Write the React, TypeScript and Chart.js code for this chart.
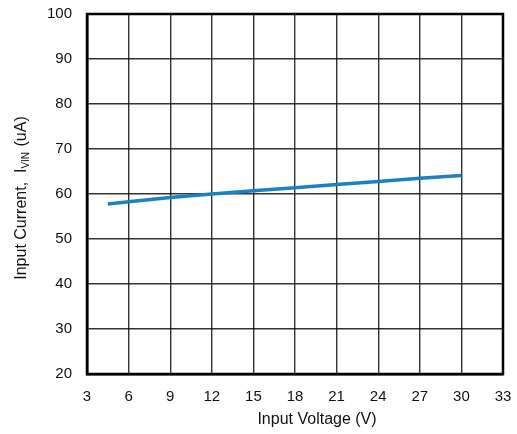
import React, { useEffect, useRef } from "react";
import { Chart, registerables } from "chart.js";

Chart.register(...registerables);

const voltage = [4.5, 6, 9, 12, 15, 18, 21, 24, 27, 30];
const current = [57.8, 58.3, 59.2, 60.0, 60.7, 61.4, 62.1, 62.8, 63.5, 64.1];
const xTitle = "Input Voltage (V)";
const yTitleMain = "Input Current,  I";
const yTitleSub = "VIN";
const yTitleEnd = " (uA)";

const FONT = "'Liberation Sans', Arial, Helvetica, sans-serif";

const titlePlugin = {
  id: "customTitles",
  afterDraw(chart: any) {
    const ctx = chart.ctx as CanvasRenderingContext2D;
    const area = chart.chartArea;
    ctx.save();
    ctx.fillStyle = "#111";
    ctx.font = `16px ${FONT}`;
    ctx.textAlign = "center";
    ctx.textBaseline = "middle";
    ctx.fillText(xTitle, 317, 420);

    const mainFont = `16px ${FONT}`;
    const subFont = `10px ${FONT}`;
    ctx.font = mainFont;
    const w1 = ctx.measureText(yTitleMain).width;
    const w3 = ctx.measureText(yTitleEnd).width;
    ctx.font = subFont;
    const w2 = ctx.measureText(yTitleSub).width + 1;
    const total = w1 + w2 + w3;
    ctx.translate(20, (area.top + area.bottom) / 2 + 4);
    ctx.rotate(-Math.PI / 2);
    ctx.textAlign = "left";
    ctx.textBaseline = "alphabetic";
    let x = -total / 2;
    ctx.font = mainFont;
    ctx.fillText(yTitleMain, x, 6);
    x += w1;
    ctx.font = subFont;
    ctx.fillText(yTitleSub, x, 9);
    x += w2;
    ctx.font = mainFont;
    ctx.fillText(yTitleEnd, x, 6);
    ctx.restore();
  },
};

export default function App() {
  const ref = useRef<HTMLCanvasElement>(null);
  useEffect(() => {
    if (!ref.current) return;
    const chart = new Chart(ref.current, {
      type: "line",
      data: {
        datasets: [
          {
            data: voltage.map((v, i) => ({ x: v, y: current[i] })),
            borderColor: "#1c80c3",
            borderWidth: 3.5,
            pointRadius: 0,
            fill: false,
            tension: 0,
          },
        ],
      },
      options: {
        animation: false,
        responsive: false,
        maintainAspectRatio: false,
        layout: { padding: { top: 14, right: 14, left: 0, bottom: 0 } },
        plugins: { legend: { display: false }, tooltip: { enabled: false } },
        scales: {
          x: {
            type: "linear",
            min: 3,
            max: 33,
            afterFit(scale: any) {
              scale.height = 60;
              scale.paddingLeft = 0;
              scale.paddingRight = 0;
            },
            ticks: {
              stepSize: 3,
              color: "#111",
              font: { size: 15, family: FONT },
              padding: 14,
              maxRotation: 0,
            },
            grid: { color: "rgba(0,0,0,0.8)", lineWidth: 1.4, drawTicks: false },
            border: { color: "#000", width: 2.5 },
          },
          y: {
            type: "linear",
            min: 20,
            max: 100,
            afterFit(scale: any) {
              scale.width = 87;
              scale.paddingTop = 0;
              scale.paddingBottom = 0;
            },
            ticks: {
              stepSize: 10,
              color: "#111",
              font: { size: 15, family: FONT },
              padding: 15,
            },
            grid: { color: "rgba(0,0,0,0.8)", lineWidth: 1.4, drawTicks: false },
            border: { color: "#000", width: 2.5 },
          },
        },
      },
      plugins: [
        titlePlugin,
        {
          id: "frame",
          afterDraw(chart: any) {
            const { ctx, chartArea: a } = chart;
            ctx.save();
            ctx.strokeStyle = "#000";
            ctx.lineWidth = 2.5;
            ctx.strokeRect(a.left, a.top, a.right - a.left, a.bottom - a.top);
            ctx.restore();
          },
        },
      ],
    });
    return () => chart.destroy();
  }, []);
  return (
    <div style={{ position: "fixed", left: 0, top: 0, width: 517, height: 434, background: "#fff" }}>
      <canvas ref={ref} width={517} height={434} style={{ width: 517, height: 434 }} />
    </div>
  );
}
